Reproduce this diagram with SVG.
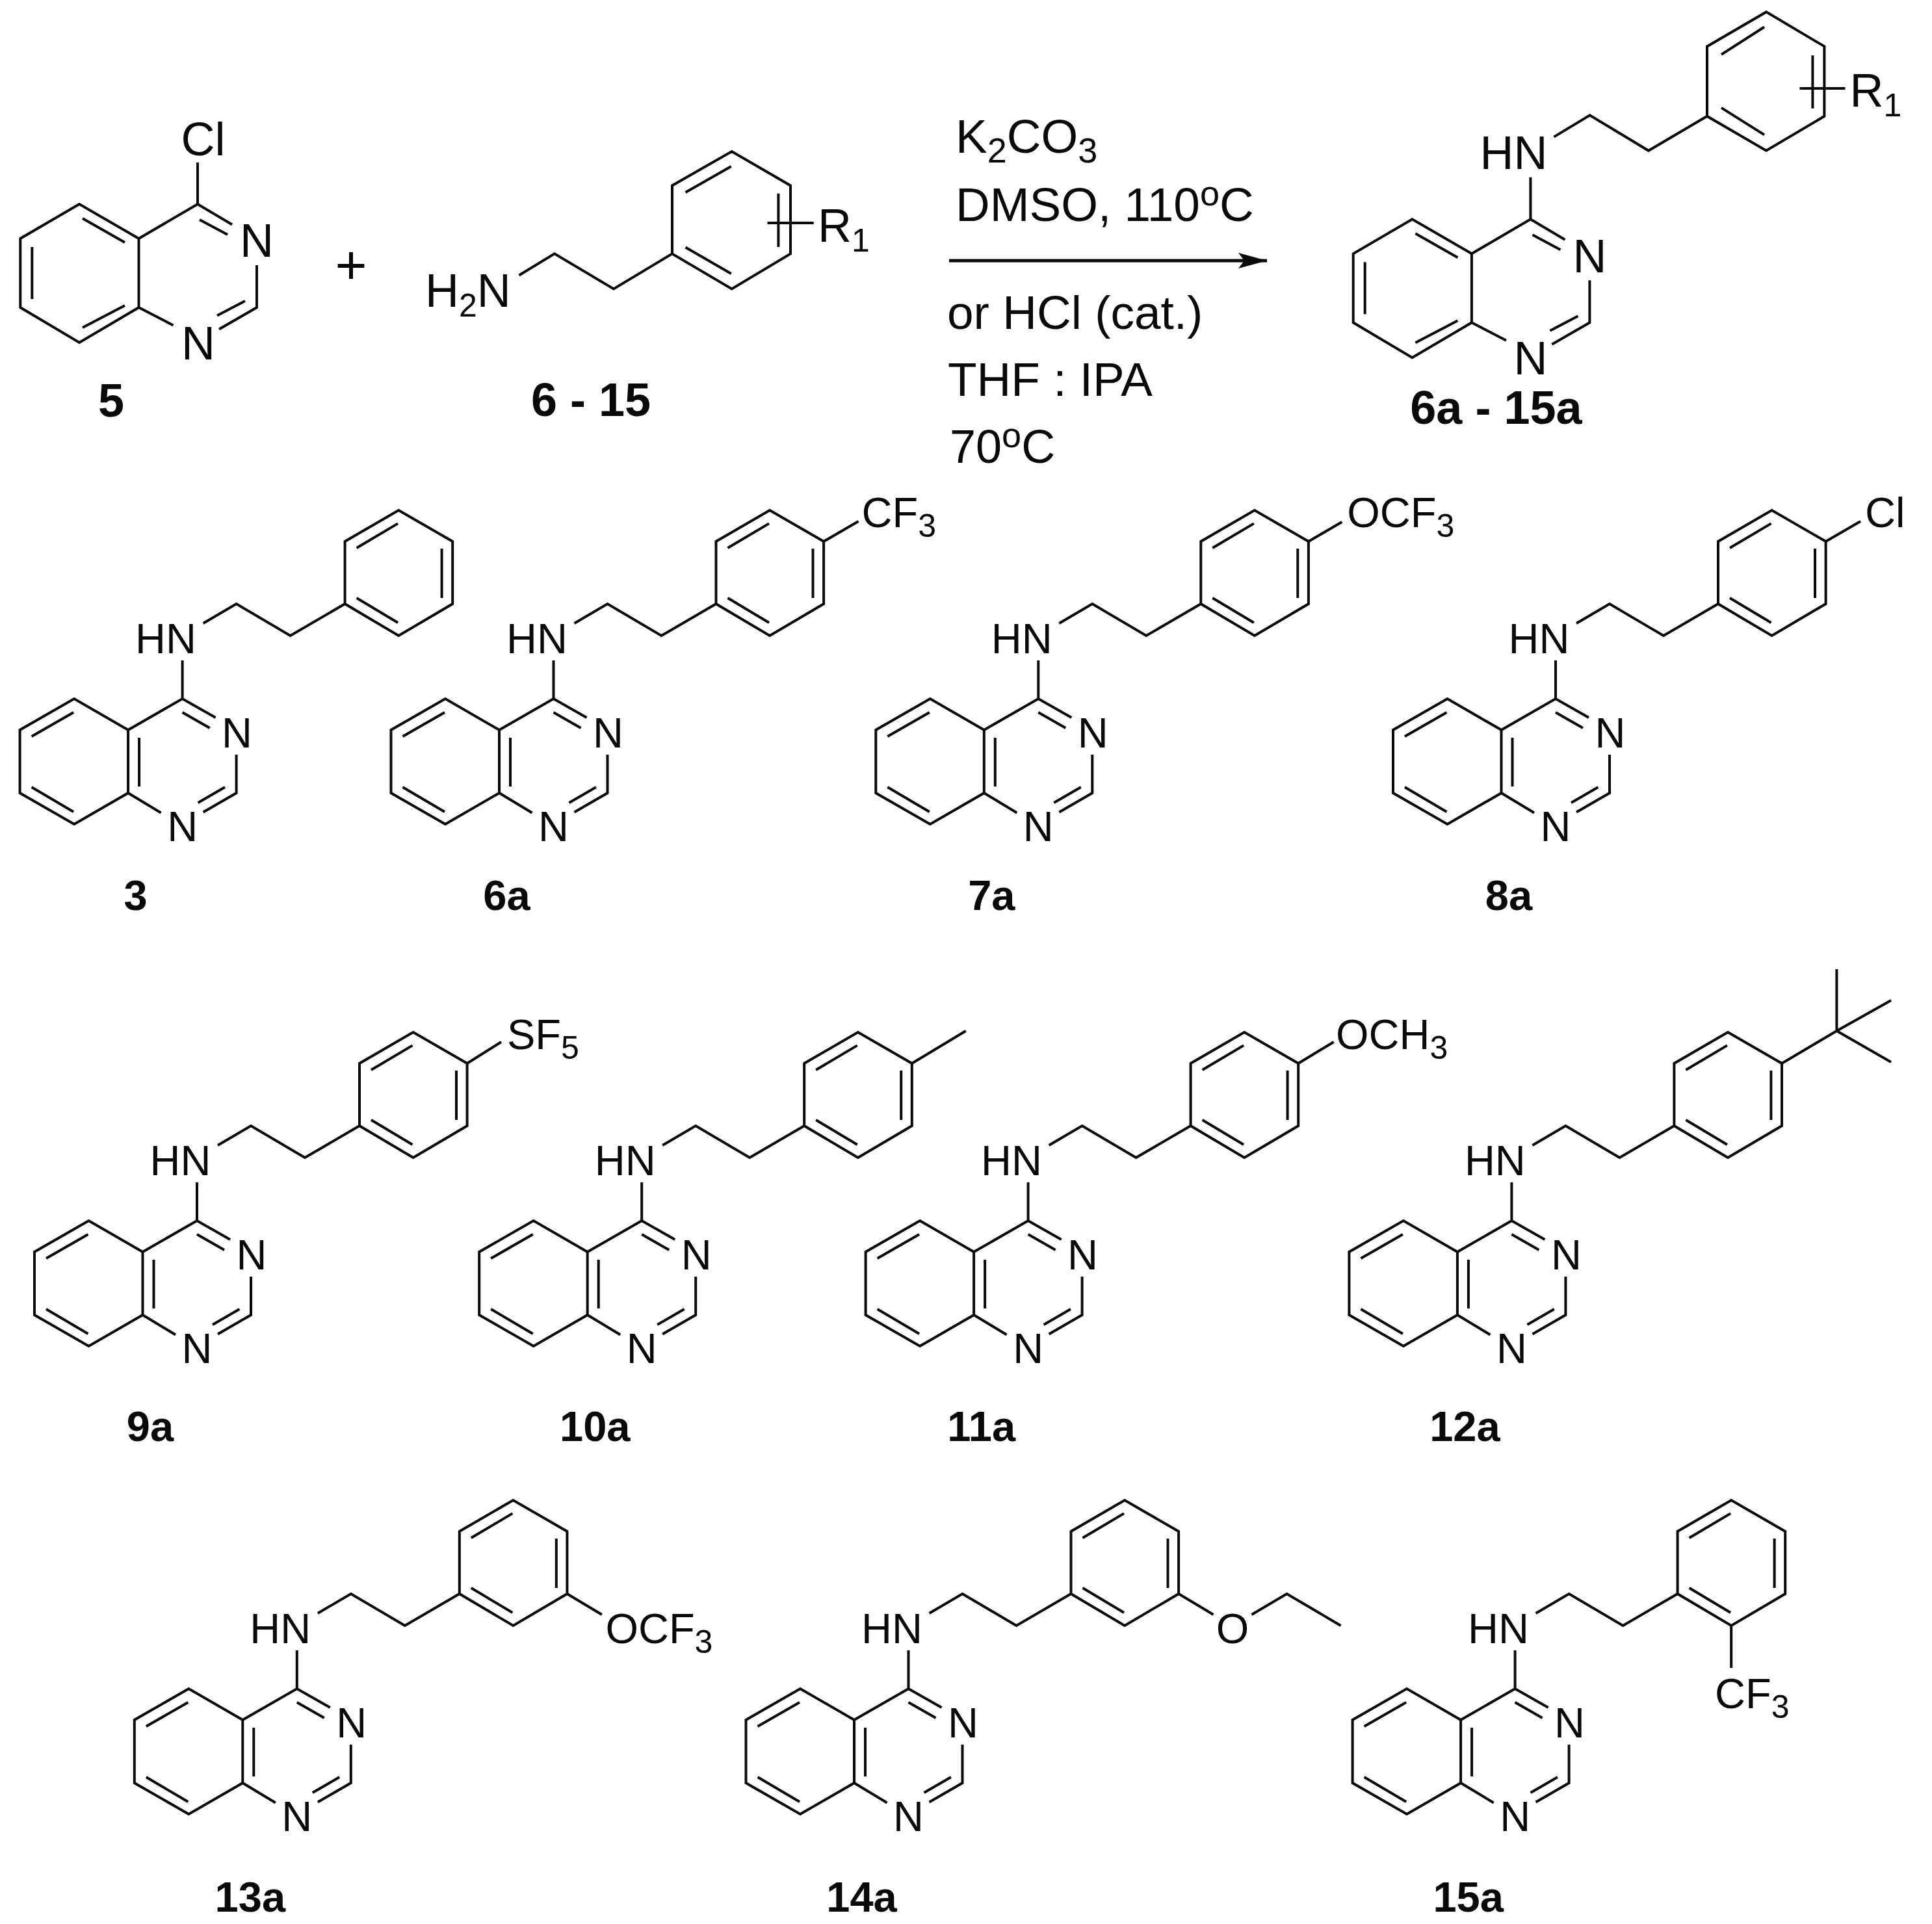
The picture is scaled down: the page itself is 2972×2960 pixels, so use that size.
<svg xmlns="http://www.w3.org/2000/svg" width="2972" height="2960" viewBox="0 0 2972 2960">
<style>
text{font-family:"Liberation Sans",Arial,sans-serif;fill:#0a0a0a}
.s{font-size:65px}
.b{font-size:72px}
.c{font-size:73px}
.l{font-size:65px;font-weight:bold;text-anchor:middle}
.t{font-size:72px;font-weight:bold;text-anchor:middle}
.m{text-anchor:middle}
.sub{font-size:50px}
.sc{font-size:54px}
.bond{fill:none;stroke:#0a0a0a;stroke-width:4;stroke-linejoin:miter;stroke-linecap:butt}
.arrow{fill:none;stroke:#0a0a0a;stroke-width:5}
</style>
<defs>
<path id="lower" class="bond" d="M-83.5 48L-166.5 0L-250 48V145L-166.5 193L-83.5 145ZM-83.5 48L0 0L51 29M0 21L42 45M83 86V145L32 174.5M65.4 136L24 160M-83.5 145L-33 175.5M-66.5 60V135M-232 58L-167.5 21M-232 136L-167.5 174M0 0V-59M32 -116L83 -146L166 -97L250 -146M250 -146V-242L332.6 -290L415.6 -242V-146L332.6 -97ZM268 -232L331.5 -269.6M399 -231V-155M268 -155L331.5 -117"/>
<path id="upper" class="bond" d="M-90.5 53L-182 0L-272.7 53V159L-182 213L-90.5 159ZM-90.5 53L0 0L53 31.5M3 24L46 47M91 94V159L33 192.5M73 149L30 171.5M-90.5 159L-37.5 186.5M-254.7 66V146M-177 22L-112 59M-177 190L-112 156"/>
<marker id="head" markerUnits="userSpaceOnUse" markerWidth="46" markerHeight="26" refX="44" refY="12" orient="auto"><path d="M0 0L44 12L0 24L9 12Z" fill="#0a0a0a"/></marker>
</defs>
<rect width="2972" height="2960" fill="#fff"/>

<g id="reactant-5" transform="translate(304,314)">
<use href="#upper"/>
<path class="bond" d="M0 0V-64"/>
<text class="b" x="-25.5" y="-75">Cl</text>
<text class="b m" x="91" y="81">N</text>
<text class="b m" x="1" y="239">N</text>
<text class="t" x="-133" y="327">5</text>
</g>

<g id="plus"><text x="540" y="436" font-size="84" text-anchor="middle">+</text></g>

<g id="reactant-6-15">
<path class="bond" d="M798.5 423.5L853 390.4L944 444.4L1034 390.4M1034 390.4V285.4L1125.7 233L1216 285.4V390.4L1125.7 444.4ZM1054.5 296L1124.7 256M1054.5 380.5L1124.7 421M1197.4 297.7V380M1180.5 343H1251.7"/>
<text class="b" x="654" y="472">H<tspan class="sub" dy="15">2</tspan><tspan dy="-15">N</tspan></text>
<text class="b" x="1258" y="371.5">R<tspan class="sub" dy="15">1</tspan></text>
<text class="t" x="909" y="640">6 - 15</text>
</g>

<g id="connectors">
<path class="arrow" d="M1460 401H1949" marker-end="url(#head)"/>
</g>

<g id="conditions">
<text class="c" x="1470" y="235">K<tspan class="sc" dy="15">2</tspan><tspan dy="-15">CO</tspan><tspan class="sc" dy="15">3</tspan></text>
<text class="c" x="1470" y="340">DMSO, 110<tspan class="sc" dy="-24">o</tspan><tspan dy="24">C</tspan></text>
<text class="c" x="1457" y="506">or HCl (cat.)</text>
<text class="c" x="1458" y="609">THF : IPA</text>
<text class="b" x="1461" y="712">70<tspan class="sc" dy="-24">o</tspan><tspan dy="24">C</tspan></text>
</g>

<g id="product-6a-15a" transform="translate(2354.4,337.3)">
<use href="#upper"/>
<path class="bond" d="M0 0V-64.5M36 -126.7L91.2 -159.9L181.6 -105.5L271.6 -158.5M271.6 -158.5V-265.9L362.6 -318.9L452 -265.9V-158.5L362.6 -105.5ZM293.6 -253.4L359.6 -295.8M293.6 -171.4L359.6 -129.9M434 -252V-170.5M414 -201.3H484"/>
<text class="b" x="-78" y="-77.3">HN</text>
<text class="b m" x="91" y="81.7">N</text>
<text class="b m" x="0" y="238.7">N</text>
<text class="b" x="491" y="-173.7">R<tspan class="sub" dy="15">1</tspan></text>
<text class="t" x="-53" y="315">6a - 15a</text>
</g>

<g id="compound-3" transform="translate(280.6,1075)">
<use href="#lower"/>
<text class="s" x="-72.5" y="-70">HN</text><text class="s m" x="84" y="74.5">N</text><text class="s m" x="0" y="219">N</text>
<text class="l" x="-72" y="325">3</text>
</g>

<g id="compound-6a" transform="translate(851.5,1075)">
<use href="#lower"/>
<path class="bond" d="M415.6 -242L469 -273"/>
<text class="s" x="-72.5" y="-70">HN</text><text class="s m" x="84" y="74.5">N</text><text class="s m" x="0" y="219">N</text>
<text class="s" x="474" y="-264">CF<tspan class="sub" dy="15">3</tspan></text>
<text class="l" x="-72" y="325">6a</text>
</g>

<g id="compound-7a" transform="translate(1597.3,1075)">
<use href="#lower"/>
<path class="bond" d="M415.6 -242L467 -272"/>
<text class="s" x="-72.5" y="-70">HN</text><text class="s m" x="84" y="74.5">N</text><text class="s m" x="0" y="219">N</text>
<text class="s" x="475" y="-264">OCF<tspan class="sub" dy="15">3</tspan></text>
<text class="l" x="-72" y="325">7a</text>
</g>

<g id="compound-8a" transform="translate(2393,1075)">
<use href="#lower"/>
<path class="bond" d="M415.6 -242L469 -273"/>
<text class="s" x="-72.5" y="-70">HN</text><text class="s m" x="84" y="74.5">N</text><text class="s m" x="0" y="219">N</text>
<text class="s" x="476" y="-264">Cl</text>
<text class="l" x="-72" y="325">8a</text>
</g>

<g id="compound-9a" transform="translate(303,1878)">
<use href="#lower"/>
<path class="bond" d="M415.6 -242L468 -275"/>
<text class="s" x="-72.5" y="-70">HN</text><text class="s m" x="84" y="74.5">N</text><text class="s m" x="0" y="219">N</text>
<text class="s" x="477" y="-264">SF<tspan class="sub" dy="15">5</tspan></text>
<text class="l" x="-72" y="339">9a</text>
</g>

<g id="compound-10a" transform="translate(987.2,1878)">
<use href="#lower"/>
<path class="bond" d="M415.6 -242L498.5 -292"/>
<text class="s" x="-72.5" y="-70">HN</text><text class="s m" x="84" y="74.5">N</text><text class="s m" x="0" y="219">N</text>
<text class="l" x="-72" y="339">10a</text>
</g>

<g id="compound-11a" transform="translate(1581.6,1878)">
<use href="#lower"/>
<path class="bond" d="M415.6 -242L470 -275"/>
<text class="s" x="-72.5" y="-70">HN</text><text class="s m" x="84" y="74.5">N</text><text class="s m" x="0" y="219">N</text>
<text class="s" x="473.4" y="-264">OCH<tspan class="sub" dy="15">3</tspan></text>
<text class="l" x="-72" y="339">11a</text>
</g>

<g id="compound-12a" transform="translate(2325.4,1878)">
<use href="#lower"/>
<path class="bond" d="M415.6 -242L500 -292M500 -292V-387M500 -292L583.6 -339M500 -292L583.6 -244"/>
<text class="s" x="-72.5" y="-70">HN</text><text class="s m" x="84" y="74.5">N</text><text class="s m" x="0" y="219">N</text>
<text class="l" x="-72" y="339">12a</text>
</g>

<g id="compound-13a" transform="translate(456.8,2598)">
<use href="#lower"/>
<path class="bond" d="M415.6 -146L469 -114"/>
<text class="s" x="-72.5" y="-70">HN</text><text class="s m" x="84" y="74.5">N</text><text class="s m" x="0" y="219">N</text>
<text class="s" x="474.6" y="-70">OCF<tspan class="sub" dy="15">3</tspan></text>
<text class="l" x="-72" y="343">13a</text>
</g>

<g id="compound-14a" transform="translate(1397.5,2598)">
<use href="#lower"/>
<path class="bond" d="M415.6 -146L469 -114M528 -114L582 -146L665 -97"/>
<text class="s" x="-72.5" y="-70">HN</text><text class="s m" x="84" y="74.5">N</text><text class="s m" x="0" y="219">N</text>
<text class="s m" x="498.5" y="-70">O</text>
<text class="l" x="-72" y="343">14a</text>
</g>

<g id="compound-15a" transform="translate(2330.6,2598)">
<use href="#lower"/>
<path class="bond" d="M332.6 -97V-32"/>
<text class="s" x="-72.5" y="-70">HN</text><text class="s m" x="84" y="74.5">N</text><text class="s m" x="0" y="219">N</text>
<text class="s" x="307.5" y="30">CF<tspan class="sub" dy="15">3</tspan></text>
<text class="l" x="-72" y="343">15a</text>
</g>
</svg>
